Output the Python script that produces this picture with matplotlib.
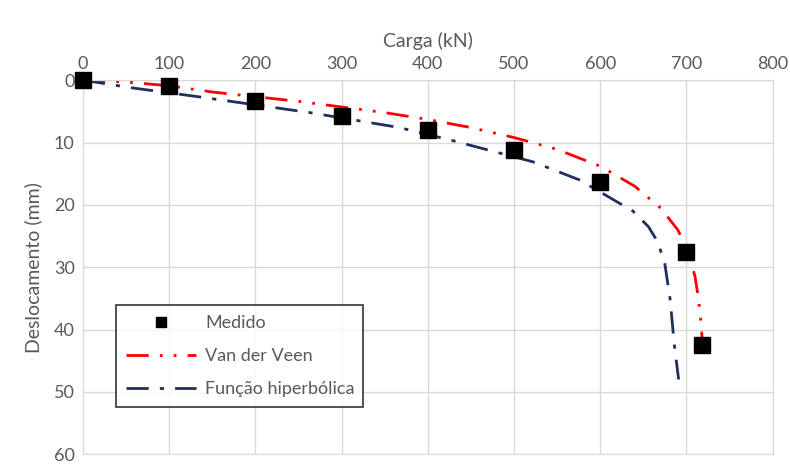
import matplotlib.pyplot as plt

# Medido
carga_medida = [0, 100, 200, 300, 400, 500, 600, 700, 718]
desloc_medido = [0, 1.0, 3.3, 5.7, 8.0, 11.2, 16.3, 27.5, 42.4]

# Van der Veen
carga_vdv = [0, 50, 100, 150, 250, 350, 400, 450, 500, 550, 600, 640, 670, 690, 702, 710, 714, 717, 719]
desloc_vdv = [0, 0.3, 0.9, 1.9, 3.4, 5.2, 6.3, 7.6, 9.2, 11.1, 13.8, 17.0, 20.5, 24.0, 27.5, 31.5, 35.0, 39.0, 43.0]

# Função hiperbólica
carga_hip = [0, 55, 136, 263, 367, 429, 522, 576, 638, 656, 667, 675, 681, 686, 691]
desloc_hip = [0, 1.2, 2.7, 5.2, 7.6, 9.7, 13.1, 16.0, 21.0, 23.5, 26.0, 29.5, 35.0, 42.5, 48.0]

plt.rcParams['font.family'] = ['Lato', 'DejaVu Sans']
grey = '#595959'

fig = plt.figure(figsize=(7.9, 4.66), dpi=100)
ax = fig.add_axes([0.105, 0.025, 0.873, 0.803])

ax.plot(carga_vdv, desloc_vdv, color='#FF0000', lw=2,
        dashes=[8, 4, 1, 4, 1, 4], label='Van der Veen', zorder=2)
ax.plot(carga_hip, desloc_hip, color='#1F2F5F', lw=2,
        dashes=[8, 4, 1.5, 4], label='Função hiperbólica', zorder=2)
ax.plot(carga_medida, desloc_medido, 's', color='black', markersize=12,
        linestyle='none', label='Medido', zorder=3, clip_on=False)

ax.set_xlim(0, 800)
ax.set_ylim(60, 0)
ax.set_xticks(range(0, 801, 100))
ax.set_yticks(range(0, 61, 10))
ax.xaxis.tick_top()
ax.xaxis.set_label_position('top')
ax.tick_params(length=0, labelsize=13, colors=grey, pad=6)
ax.grid(True, color='#D9D9D9', lw=1)
ax.set_axisbelow(True)
for s in ax.spines.values():
    s.set_color('#D9D9D9')

ax.set_xlabel('Carga (kN)', fontsize=14, color=grey, labelpad=6)
ax.set_ylabel('Deslocamento (mm)', fontsize=14, color=grey, labelpad=8)

h, l = ax.get_legend_handles_labels()
order = [2, 0, 1]
leg = ax.legend([h[i] for i in order], [l[i] for i in order],
                loc='lower left', bbox_to_anchor=(0.035, 0.102, 0.384, 0.27),
                mode='expand', fancybox=False, edgecolor='black',
                fontsize=13, labelspacing=0.95, handlelength=3.9,
                borderpad=0.55, markerscale=0.65, handletextpad=0.5)
leg.get_frame().set_linewidth(1.2)
for t in leg.get_texts():
    t.set_color(grey)

fig.savefig('out.png', dpi=100)
